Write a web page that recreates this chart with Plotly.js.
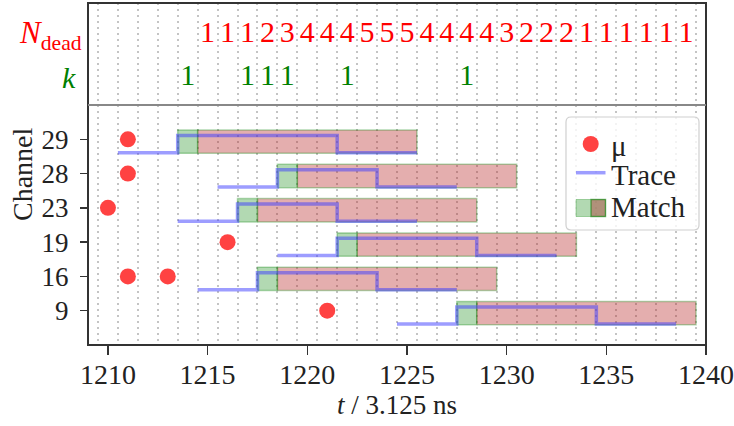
<!DOCTYPE html>
<html>
<head>
<meta charset="utf-8">
<script src="https://cdn.plot.ly/plotly-3.0.1.min.js"></script>
<style>html,body{margin:0;padding:0;background:#fff;}#chart{width:734px;height:426px;}</style>
</head>
<body>
<div id="chart"></div>
<script>
// ---------- data ----------
const channels = ['29', '28', '23', '19', '16', '9'];            // top to bottom
const traceStart = [1210.5, 1215.5, 1213.5, 1218.5, 1214.5, 1224.5];
const traceRise  = [1213.5, 1218.5, 1216.5, 1221.5, 1217.5, 1227.5];
const traceFall  = [1221.5, 1223.5, 1221.5, 1228.5, 1223.5, 1234.5];
const traceEnd   = [1225.5, 1227.5, 1225.5, 1232.5, 1227.5, 1238.5];
const matchStart    = [1213.5, 1218.5, 1216.5, 1221.5, 1217.5, 1227.5];
const matchRedStart = [1214.5, 1219.5, 1217.5, 1222.5, 1218.5, 1228.5];
const matchEnd      = [1225.5, 1230.5, 1228.5, 1233.5, 1229.5, 1239.5];
const muTimes    = [1211, 1211, 1210, 1216, 1211, 1213, 1221];
const muChannels = ['29', '28', '23', '19', '16', '16', '9'];
const nDeadTimes  = [1215, 1216, 1217, 1218, 1219, 1220, 1221, 1222, 1223, 1224, 1225, 1226, 1227,
                     1228, 1229, 1230, 1231, 1232, 1233, 1234, 1235, 1236, 1237, 1238, 1239];
const nDeadValues = [1, 1, 1, 2, 3, 4, 4, 4, 5, 5, 5, 4, 4, 4, 4, 3, 2, 2, 2, 1, 1, 1, 1, 1, 1];
const kTimes  = [1214, 1217, 1218, 1219, 1222, 1228];
const kValues = [1, 1, 1, 1, 1, 1];
const xTicks = [1210, 1215, 1220, 1225, 1230, 1235, 1240];

// ---------- style ----------
const FONT = '"Liberation Serif"';
const GREEN_FILL = 'rgba(0,128,0,0.3)';
const GREEN_EDGE = 'rgba(0,128,0,0.3)';
const RED_FILL = 'rgba(180,30,30,0.36)';
const BLUE = 'rgba(60,60,255,0.5)';
const MU = 'rgba(255,45,45,0.9)';
const RECT_LO = -0.41, RECT_HI = 0.27, TR_LO = -0.39, TR_HI = 0.11;

const rowOf = ch => channels.length - 1 - channels.indexOf(ch);
const traces = [];

channels.forEach((ch, i) => {
  const r = rowOf(ch);
  traces.push({
    x: [matchStart[i], matchRedStart[i], matchRedStart[i], matchStart[i], matchStart[i]],
    y: [r + RECT_LO, r + RECT_LO, r + RECT_HI, r + RECT_HI, r + RECT_LO],
    mode: 'lines', fill: 'toself', fillcolor: GREEN_FILL,
    line: {color: GREEN_EDGE, width: 1.5}, hoverinfo: 'skip', showlegend: false
  });
  traces.push({
    x: [matchRedStart[i], matchEnd[i], matchEnd[i], matchRedStart[i], matchRedStart[i]],
    y: [r + RECT_LO, r + RECT_LO, r + RECT_HI, r + RECT_HI, r + RECT_LO],
    mode: 'lines', fill: 'toself', fillcolor: RED_FILL,
    line: {color: GREEN_EDGE, width: 1.5}, hoverinfo: 'skip', showlegend: false
  });
});

channels.forEach((ch, i) => {
  const r = rowOf(ch);
  traces.push({
    x: [traceStart[i], traceRise[i], traceFall[i], traceEnd[i]],
    y: [r + TR_LO, r + TR_HI, r + TR_LO, r + TR_LO],
    mode: 'lines', line: {color: BLUE, width: 3.5, shape: 'hv'},
    showlegend: false
  });
});

traces.push({
  x: muTimes, y: muChannels.map(rowOf),
  mode: 'markers', marker: {color: MU, size: 16, line: {width: 0}},
  showlegend: false
});

traces.push({
  x: nDeadTimes, y: nDeadTimes.map(() => 1), text: nDeadValues.map(String),
  mode: 'text', textfont: {family: FONT, size: 30, color: '#ff0000'},
  yaxis: 'y2', showlegend: false, textposition: 'middle center'
});
traces.push({
  x: kTimes, y: kTimes.map(() => 0), text: kValues.map(String),
  mode: 'text', textfont: {family: FONT, size: 30, color: '#008000'},
  yaxis: 'y2', showlegend: false, textposition: 'middle center'
});

// ---------- layout ----------
const L = 88, R = 28, T = 3, B = 81, W = 734, H = 426;
const PW = W - L - R, PH = H - T - B;
const split = 240 / PH;
const px = v => (v - L) / PW;
const py = v => (H - B - v) / PH;

// rounded legend frame (paper coordinates)
function roundRect(x0p, x1p, y0p, y1p, rp) {
  const a = px(x0p), b = px(x1p), top = py(y0p), bot = py(y1p);
  const rx = rp / PW, ry = rp / PH;
  return `M${a + rx},${top} L${b - rx},${top} Q${b},${top} ${b},${top - ry} ` +
         `L${b},${bot + ry} Q${b},${bot} ${b - rx},${bot} L${a + rx},${bot} ` +
         `Q${a},${bot} ${a},${bot + ry} L${a},${top - ry} Q${a},${top} ${a + rx},${top} Z`;
}

const shapes = [
  {type: 'rect', xref: 'paper', yref: 'paper', x0: 0, x1: 1, y0: 0, y1: 1,
   line: {color: '#333', width: 2}, layer: 'above'},
  {type: 'line', xref: 'paper', yref: 'paper', x0: 0, x1: 1, y0: split, y1: split,
   line: {color: '#888', width: 2}, layer: 'above'},
  {type: 'path', xref: 'paper', yref: 'paper', path: roundRect(566, 699, 117, 230, 5),
   fillcolor: 'rgba(255,255,255,0.8)', line: {color: '#d0d0d0', width: 1.2}, layer: 'above'},
  {type: 'circle', xref: 'paper', yref: 'paper', x0: px(582.7), x1: px(598.7), y0: py(152), y1: py(136),
   fillcolor: MU, line: {width: 0}, layer: 'above'},
  {type: 'line', xref: 'paper', yref: 'paper', x0: px(576), x1: px(605.5), y0: py(172.7), y1: py(172.7),
   line: {color: BLUE, width: 3.5}, layer: 'above'},
  {type: 'rect', xref: 'paper', yref: 'paper', x0: px(576), x1: px(605.5), y0: py(216.5), y1: py(199.5),
   fillcolor: GREEN_FILL, line: {color: GREEN_EDGE, width: 1}, layer: 'above'},
  {type: 'rect', xref: 'paper', yref: 'paper', x0: px(591), x1: px(605.5), y0: py(216.5), y1: py(199.5),
   fillcolor: 'rgba(173,38,38,0.4)', line: {color: 'rgba(0,128,0,0.5)', width: 1.5}, layer: 'above'}
];

const legText = (txt, y) => ({xref: 'paper', yref: 'paper', x: px(609), y: py(y), xanchor: 'left',
  yanchor: 'middle', text: txt, showarrow: false, font: {family: FONT, size: 29, color: '#222'}});

const annotations = [
  {xref: 'paper', yref: 'y2', x: px(84), y: 1, xanchor: 'right', yanchor: 'middle',
   text: '<i>N</i><sub>dead</sub>', showarrow: false, font: {family: FONT, size: 31, color: '#ff0000'}},
  {xref: 'paper', yref: 'y2', x: px(78), y: 0, xanchor: 'right', yanchor: 'middle',
   text: '<i>k</i>', showarrow: false, font: {family: FONT, size: 30, color: '#008000'}},
  {xref: 'paper', yref: 'paper', x: px(22), y: 0.5, xanchor: 'center', yanchor: 'middle',
   textangle: -90, text: 'Channel', showarrow: false, font: {family: FONT, size: 28, color: '#222'}},
  {xref: 'paper', yref: 'paper', x: 0.5, y: py(405), xanchor: 'center', yanchor: 'middle',
   text: '<i>t</i> / 3.125 ns', showarrow: false, font: {family: FONT, size: 27, color: '#222'}},
  legText('μ', 146), legText('Trace', 175), legText('Match', 207)
];

const layout = {
  width: W, height: H,
  margin: {l: L, r: R, t: T, b: B, pad: 0},
  paper_bgcolor: '#fff', plot_bgcolor: '#fff',
  showlegend: false,
  font: {family: FONT, color: '#222'},
  xaxis: {
    range: [1209, 1240], tickvals: xTicks, ticktext: xTicks.map(String),
    ticks: 'outside', ticklen: 9, tickwidth: 1.5, tickcolor: '#333',
    tickfont: {family: FONT, size: 28, color: '#222'}, ticklabelstandoff: -5,
    showgrid: false, zeroline: false, showline: false,
    minor: {tick0: 1209.5, dtick: 1, showgrid: true, gridcolor: '#c4c4c4', gridwidth: 2,
            griddash: '2px,4px', ticks: ''}
  },
  yaxis: {
    domain: [0, split], range: [-1, 6],
    tickvals: channels.map(rowOf), ticktext: channels,
    ticks: 'outside', ticklen: 7, tickwidth: 1.5, tickcolor: '#333',
    tickfont: {family: FONT, size: 27, color: '#222'}, ticklabelstandoff: 6,
    showgrid: false, zeroline: false, showline: false
  },
  yaxis2: {
    domain: [split, 1], range: [-0.64, 1.733], anchor: 'x',
    showticklabels: false, ticks: '', showgrid: false, zeroline: false, showline: false
  },
  shapes: shapes,
  annotations: annotations
};

Plotly.newPlot('chart', traces, layout, {displayModeBar: false, staticPlot: true});
</script>
</body>
</html>
